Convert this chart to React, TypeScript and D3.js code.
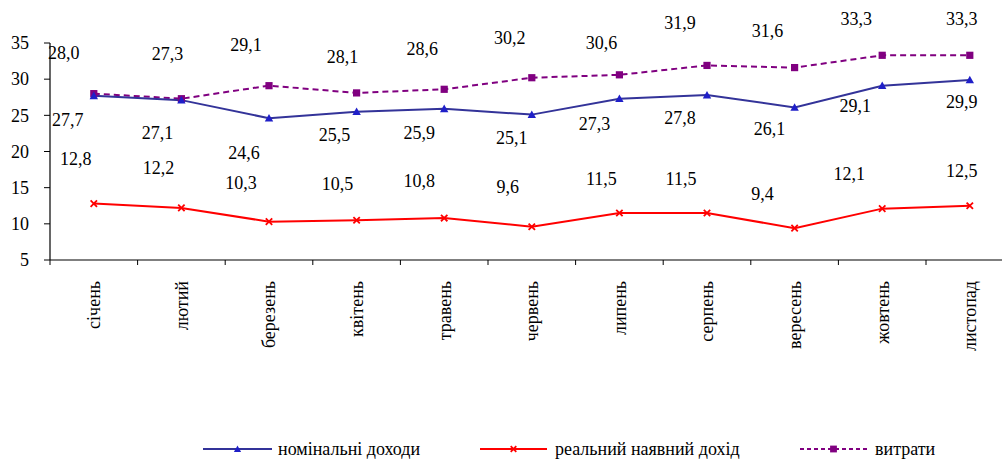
import React from "react";
import * as d3 from "d3";

// Months (Ukrainian)
const months = [
  "січень", "лютий", "березень", "квітень", "травень", "червень",
  "липень", "серпень", "вересень", "жовтень", "листопад",
];

// Series values
const nominalIncome = [27.7, 27.1, 24.6, 25.5, 25.9, 25.1, 27.3, 27.8, 26.1, 29.1, 29.9];
const realDisposableIncome = [12.8, 12.2, 10.3, 10.5, 10.8, 9.6, 11.5, 11.5, 9.4, 12.1, 12.5];
const expenses = [28.0, 27.3, 29.1, 28.1, 28.6, 30.2, 30.6, 31.9, 31.6, 33.3, 33.3];

const yTicks = [5, 10, 15, 20, 25, 30, 35];

const seriesNames = ["номінальні доходи", "реальний наявний дохід", "витрати"];

// Hand-placed label nudges (pixels from the point)
const nominalLabelShift: [number, number][] = [
  [-26, 24], [-24, 33], [-25, 34], [-22, 23], [-25, 24], [-20, 23],
  [-25, 25], [-27, 23], [-25, 21], [-27, 20], [-8, 22],
];
const realLabelShift: [number, number][] = [
  [-18, -45], [-23, -40], [-28, -39], [-19, -37], [-25, -37], [-24, -40],
  [-18, -34], [-26, -34], [-32, -34], [-33, -35], [-8, -35],
];
const expensesLabelShift: [number, number][] = [
  [-30, -41], [-14, -45], [-23, -41], [-14, -36], [-22, -41], [-22, -40],
  [-18, -32], [-27, -43], [-27, -37], [-26, -37], [-8, -37],
];

const W = 1002;
const H = 459;
const left = 50;
const top = 43;
const bottom = 260;
const bandW = 87.6;

const textStyle: React.CSSProperties = {
  fontFamily: '"Liberation Serif"',
  fontSize: "18px",
};

const NAVY = "#333399";
const NAVY_MARK = "#1f1fc8";
const RED = "#ff0000";
const PURPLE = "#800080";

const fmt = (v: number) => v.toFixed(1).replace(".", ",");

function Triangle({ x, y, s = 4.2, fill }: { x: number; y: number; s?: number; fill: string }) {
  return (
    <path
      d={`M${x},${y - s} L${x + s},${y + s * 0.8} L${x - s},${y + s * 0.8} Z`}
      fill={fill}
    />
  );
}

function Cross({ x, y, s = 3.2, stroke }: { x: number; y: number; s?: number; stroke: string }) {
  return (
    <path
      d={`M${x - s},${y - s} L${x + s},${y + s} M${x - s},${y + s} L${x + s},${y - s}`}
      stroke={stroke}
      strokeWidth={1.8}
      fill="none"
    />
  );
}

function Square({ x, y, s = 3.6, fill }: { x: number; y: number; s?: number; fill: string }) {
  return <rect x={x - s} y={y - s} width={2 * s} height={2 * s} fill={fill} />;
}

export default function App() {
  const x = d3
    .scaleBand<string>()
    .domain(months)
    .range([left, left + bandW * months.length])
    .padding(0);
  const cx = (i: number) => (x(months[i]) as number) + x.bandwidth() / 2;
  const y = d3.scaleLinear().domain([5, 35]).range([bottom, top]);

  const line = d3
    .line<number>()
    .x((_, i) => cx(i))
    .y((d) => y(d));

  const labels = (vals: number[], shift: [number, number][]) =>
    vals.map((v, i) => (
      <text
        key={i}
        x={cx(i) + shift[i][0]}
        y={y(v) + shift[i][1]}
        dy="0.35em"
        textAnchor="middle"
        fill="#000"
        style={textStyle}
      >
        {fmt(v)}
      </text>
    ));

  const plotRight = left + bandW * months.length;
  const legendY = 449;

  return (
    <svg
      width={W}
      height={H}
      style={{ position: "absolute", left: 0, top: 0, background: "#fff" }}
    >
      <rect width={W} height={H} fill="#fff" />

      {/* y axis */}
      <line x1={left} x2={left} y1={top} y2={bottom} stroke="#000" strokeWidth={1.2} />
      {yTicks.map((t) => (
        <g key={t}>
          <line x1={left - 6} x2={left} y1={y(t)} y2={y(t)} stroke="#000" strokeWidth={1} />
          <text x={29} y={y(t)} dy="0.35em" textAnchor="end" style={textStyle}>
            {t}
          </text>
        </g>
      ))}

      {/* x axis */}
      <line x1={left} x2={plotRight} y1={bottom} y2={bottom} stroke="#000" strokeWidth={1.2} />
      {d3.range(months.length + 1).map((i) => (
        <line
          key={i}
          x1={left + i * x.bandwidth()}
          x2={left + i * x.bandwidth()}
          y1={bottom}
          y2={bottom + 5}
          stroke="#000"
          strokeWidth={1}
        />
      ))}
      {months.map((m, i) => (
        <text
          key={m}
          transform={`translate(${cx(i)},${281}) rotate(-90)`}
          dy="0.35em"
          textAnchor="end"
          style={textStyle}
        >
          {m}
        </text>
      ))}

      {/* series */}
      <path d={line(expenses) || ""} fill="none" stroke={PURPLE} strokeWidth={2} strokeDasharray="6,4" />
      <path d={line(nominalIncome) || ""} fill="none" stroke={NAVY} strokeWidth={2} />
      <path d={line(realDisposableIncome) || ""} fill="none" stroke={RED} strokeWidth={2} />

      {expenses.map((v, i) => (
        <Square key={i} x={cx(i)} y={y(v)} fill={PURPLE} />
      ))}
      {nominalIncome.map((v, i) => (
        <Triangle key={i} x={cx(i)} y={y(v)} fill={NAVY_MARK} />
      ))}
      {realDisposableIncome.map((v, i) => (
        <Cross key={i} x={cx(i)} y={y(v)} stroke={RED} />
      ))}

      {labels(expenses, expensesLabelShift)}
      {labels(nominalIncome, nominalLabelShift)}
      {labels(realDisposableIncome, realLabelShift)}

      {/* legend */}
      <g>
        <line x1={203} x2={272} y1={legendY} y2={legendY} stroke={NAVY} strokeWidth={2} />
        <Triangle x={237.5} y={legendY} s={3.6} fill={NAVY_MARK} />
        <text x={278} y={legendY} dy="0.35em" style={textStyle}>{seriesNames[0]}</text>

        <line x1={480} x2={547} y1={legendY} y2={legendY} stroke={RED} strokeWidth={2} />
        <Cross x={513.5} y={legendY} s={2.8} stroke={RED} />
        <text x={555} y={legendY} dy="0.35em" style={textStyle}>{seriesNames[1]}</text>

        <line x1={800} x2={867} y1={legendY} y2={legendY} stroke={PURPLE} strokeWidth={2} strokeDasharray="4,3" />
        <Square x={833.5} y={legendY} s={3.4} fill={PURPLE} />
        <text x={875} y={legendY} dy="0.35em" style={textStyle}>{seriesNames[2]}</text>
      </g>
    </svg>
  );
}
